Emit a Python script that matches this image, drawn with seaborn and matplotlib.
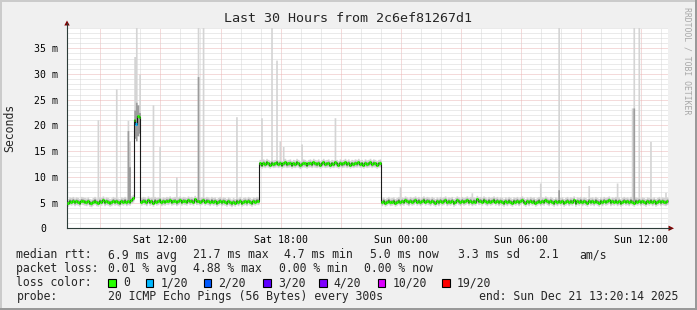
import numpy as np
import pandas as pd
import matplotlib
matplotlib.use("Agg")
import matplotlib.pyplot as plt
import seaborn as sns
from matplotlib.patches import Rectangle, Polygon
from matplotlib.lines import Line2D
from matplotlib.transforms import ScaledTranslation

# ---------------- data ----------------
start_hour = 7 + 20 / 60 + 14 / 3600      # Sat 07:20:14 (hours since Sat 00:00)
step_minutes = 5

seg_a = [5.0, 5.3, 5.2, 5.4, 5.1, 5.3, 5.2, 5.0, 5.4, 5.3,
         5.2, 5.1, 5.3, 5.0, 4.9, 5.2, 5.4, 5.1, 5.0, 5.3,
         5.2, 5.5, 5.1, 5.3, 5.2, 5.0, 5.1, 5.4, 5.2, 5.3,
         5.1, 5.0, 5.3, 5.2, 5.4, 5.1, 5.3, 5.2, 5.5, 5.8]
seg_hump = [21.0, 20.2, 21.8, 21.6]
seg_b = [5.2, 5.4, 5.3, 5.1, 5.5, 5.2, 5.3, 5.0, 5.4, 5.2,
         5.3, 5.5, 5.1, 5.3, 5.2, 5.4, 5.3, 5.5, 5.2, 5.3,
         5.4, 5.1, 5.3, 5.5, 5.2, 5.4, 5.3, 5.2, 5.5, 5.3,
         5.4, 5.2, 5.6, 5.3, 5.4, 5.2, 5.3, 5.5, 5.2, 5.4,
         5.3, 5.1, 5.4, 5.2, 5.3, 5.0, 5.2, 5.4, 5.1, 5.3,
         5.2, 5.0, 5.3, 5.1, 4.9, 5.2, 5.0, 5.3, 5.1, 5.4,
         5.0, 5.2, 5.3, 5.1, 5.4, 5.2, 5.0, 5.3, 5.2, 5.4,
         5.3]
seg_c = [12.6, 12.4, 12.7, 12.5, 12.8, 12.6, 12.4, 12.7, 12.5, 12.6,
         12.8, 12.5, 12.7, 12.4, 12.6, 12.8, 12.5, 12.6, 12.7, 12.4,
         12.6, 12.5, 12.8, 12.6, 12.3, 12.5, 12.7, 12.6, 12.4, 12.6,
         12.7, 12.5, 12.8, 12.6, 12.5, 12.7, 12.4, 12.6, 12.8, 12.5,
         12.6, 12.7, 12.4, 12.6, 12.5, 12.8, 12.6, 12.4, 12.7, 12.5,
         12.6, 12.8, 12.5, 12.7, 12.4, 12.6, 12.5, 12.7, 12.6, 12.8,
         12.5, 12.6, 12.4, 12.7, 12.5, 12.6, 12.8, 12.5, 12.7, 12.6,
         12.4, 12.6, 12.7]
seg_d = [5.1, 5.3, 5.0, 5.2, 5.4, 5.1, 5.2, 5.3, 5.0, 5.2,
         5.4, 5.1, 5.3, 5.2, 5.5, 5.3, 5.1, 5.4, 5.2, 5.3,
         5.5, 5.2, 5.4, 5.1, 5.3, 5.5, 5.2, 5.4, 5.3, 5.1,
         5.4, 5.2, 5.0, 5.3, 5.1, 5.4, 5.2, 5.3, 5.5, 5.1,
         5.3, 5.2, 5.4, 5.0, 5.2, 5.5, 5.3, 5.1, 5.4, 5.2,
         5.3, 5.5, 5.2, 5.4, 5.1, 5.3, 5.2, 5.6, 5.3, 5.4,
         5.2, 5.5, 5.3, 5.1, 5.4, 5.2, 5.3, 5.5, 5.2, 5.4,
         5.1, 5.3, 5.2, 5.0, 5.3, 5.1, 5.4, 5.2, 5.0, 5.3,
         5.2, 5.4, 5.1, 5.3, 5.5, 5.2, 5.0, 5.3, 5.1, 5.4,
         5.2, 5.3, 5.0, 5.2, 5.4, 5.1, 5.3, 5.2, 5.5, 5.3,
         5.1, 5.4, 5.2, 5.0, 5.3, 5.1, 5.4, 5.2, 5.3, 5.0,
         5.2, 5.4, 5.1, 5.3, 5.2, 5.5, 5.0, 5.3, 5.2, 5.4,
         5.1, 5.3, 5.2, 5.0, 5.4, 5.2, 5.3, 5.1, 5.4, 5.2,
         5.0, 5.3, 5.1, 5.4, 5.2, 5.3, 5.5, 5.1, 5.3, 5.2,
         5.4, 5.1, 5.3, 5.0, 5.2, 5.4, 5.2, 5.3, 5.1, 5.4,
         5.2, 5.0, 5.3, 5.2, 5.4, 5.1, 5.3, 5.2, 5.0, 5.3,
         5.2, 5.4, 5.1, 5.3, 5.0, 5.2, 5.4, 5.1, 5.3, 5.2,
         5.1, 5.3]
median_ms = seg_a + seg_hump + seg_b + seg_c + seg_d

# per-step packet loss (index into loss classes), only non-zero steps listed
loss_steps = [41]
loss_class = [1]

# single-ping outliers (lightest smoke): step index -> highest ping (ms)
spike_steps = [18, 29, 36, 37, 40, 41, 43, 51, 55, 65, 78, 81, 101, 116, 122,
               125, 127, 129, 140, 160, 199, 242, 283, 294, 312, 329, 338,
               339, 342, 349, 358]
spike_tops = [21.1, 27.1, 21.0, 17.0, 33.4, 45.0, 30.0, 24.0, 15.9, 10.0, 45.0,
              45.0, 21.7, 21.5, 45.0, 32.7, 17.0, 15.9, 16.4, 21.5, 8.1, 6.9,
              8.8, 45.0, 8.3, 8.8, 23.4, 45.0, 45.0, 16.9, 7.0]
# denser smoke (several pings high)
dense_steps = [36, 37, 40, 41, 42, 43, 78, 294, 339]
dense_tops = [19.0, 12.0, 23.0, 24.5, 24.0, 22.5, 29.5, 7.5, 23.4]
dense_bottoms = [5.5, 5.5, 17.5, 17.0, 18.0, 18.5, 5.6, 5.3, 5.6]

y_ticks = [0, 5, 10, 15, 20, 25, 30, 35]
y_labels = ["0", "5 m", "10 m", "15 m", "20 m", "25 m", "30 m", "35 m"]
x_ticks = [12, 18, 24, 30, 36]
x_labels = ["Sat 12:00", "Sat 18:00", "Sun 00:00", "Sun 06:00", "Sun 12:00"]

loss_names = ["0", "1/20", "2/20", "3/20", "4/20", "10/20", "19/20"]
loss_colors = ["#26ff00", "#00b8ff", "#0059ff", "#5e00ff", "#7e00ff", "#dd00ff", "#ff0000"]

# ---------------- style ----------------
sns.set_style("white")
plt.rcParams["font.family"] = ["DejaVu Sans Mono", "DejaVu Sans"]

W, H = 697, 310
BG = "#f0f0f0"
AXIS = "#2c3c38"
fig = plt.figure(figsize=(W / 100, H / 100), dpi=100, facecolor=BG)


def fx(x):
    return x / W


def fy(y):
    return 1 - y / H


x0, x1, y0, y1 = 67, 668, 228.3, 27.7
ax = fig.add_axes([fx(x0), fy(y0), fx(x1) - fx(x0), fy(y1) - fy(y0)])
ax.set_facecolor("white")

n = len(median_ms)
t = start_hour + np.arange(n + 1) * step_minutes / 60.0
med = np.array(median_ms, dtype=float)
med_ext = np.append(med, med[-1])

lo = med - 0.7
hi = med + 0.8
for i, v in zip(spike_steps, spike_tops):
    hi[i] = max(hi[i], v)
mlo = med - 0.35
mhi = med + 0.4
for i, v, b in zip(dense_steps, dense_tops, dense_bottoms):
    mhi[i] = max(mhi[i], v)
    mlo[i] = min(mlo[i], b)

ext = lambda a: np.append(a, a[-1])

t_end = start_hour + 30
# grid
for h in range(8, 38):
    major = (h % 3 == 0)
    ax.axvline(h, color="#ebb6b6" if major else "#d6d6d6", lw=0.72,
               ls=(0, (1, 1)), zorder=0.5)
for v in range(1, 40):
    major = (v % 5 == 0)
    ax.axhline(v, color="#ebb6b6" if major else "#d6d6d6", lw=0.72,
               ls=(0, (1, 1)), zorder=0.5)

ax.fill_between(t, ext(lo), ext(hi), step="post", color="#d4d4d4", lw=0, zorder=1)
ax.fill_between(t, ext(mlo), ext(mhi), step="post", color="#9c9c9c", lw=0, zorder=1.1)
ax.fill_between(t, ext(med - 0.15), ext(med + 0.2), step="post", color="#4a4a4a",
                lw=0, zorder=1.2)

df = pd.DataFrame({"t": t, "median": med_ext})
sns.lineplot(data=df, x="t", y="median", drawstyle="steps-post", color="#1a1a1a",
             lw=0.8, ax=ax, zorder=2)

loss = np.zeros(n, dtype=int)
for i, c in zip(loss_steps, loss_class):
    loss[i] = c
seg_cols = [loss_colors[c] for c in loss]
ax.hlines(med, t[:-1], t[1:], colors=seg_cols, lw=2.1, zorder=3)

ax.set_xlim(start_hour, t_end)
ax.set_ylim(0, 39)
ax.set_xlabel("")
ax.set_ylabel("")
ax.set_xticks(x_ticks, x_labels)
ax.set_yticks(y_ticks, y_labels)
ax.tick_params(axis="both", length=2, width=0.7, color=AXIS, labelsize=7.1,
               labelcolor="black")
ax.tick_params(axis="y", pad=4.5)
ax.tick_params(axis="x", pad=2.5)
zero_lbl = ax.get_yticklabels()[0]
zero_lbl.set_transform(zero_lbl.get_transform() +
                       ScaledTranslation(-0.12, 0, fig.dpi_scale_trans))

for s in ["top", "right"]:
    ax.spines[s].set_visible(False)
for s in ["left", "bottom"]:
    ax.spines[s].set_color(AXIS)
    ax.spines[s].set_linewidth(0.8)

# axis extensions with arrows
fig.add_artist(Line2D([fx(x0), fx(x0)], [fy(y1), fy(23)], transform=fig.transFigure,
                      color=AXIS, lw=0.8))
fig.add_artist(Line2D([fx(x1), fx(670)], [fy(y0), fy(y0)], transform=fig.transFigure,
                      color=AXIS, lw=0.8))
fig.add_artist(Polygon([[fx(64.3), fy(25.5)], [fx(69.7), fy(25.5)], [fx(67), fy(20.5)]],
                       closed=True, transform=fig.transFigure, color="#7f0000", lw=0))
fig.add_artist(Polygon([[fx(668.5), fy(225.6)], [fx(668.5), fy(231)], [fx(674), fy(228.3)]],
                       closed=True, transform=fig.transFigure, color="#7f0000", lw=0))

# title, axis label, watermark
fig.text(fx(348), fy(19), "Last 30 Hours from 2c6ef81267d1", ha="center", va="center",
         fontsize=9.6)
fig.text(fx(10), fy(128), "Seconds", rotation=90, ha="center", va="center", fontsize=8.3)
fig.text(fx(687), fy(61), "RRDTOOL / TOBI OETIKER", rotation=270, ha="center",
         va="center", fontsize=5.9, color="#a8a8a8")

# legend
LS = 8.3
row1 = [(16.5, "median rtt:"), (107.5, "6.9 ms avg"), (193.3, "21.7 ms max"),
        (283.6, "4.7 ms min"), (369.8, "5.0 ms now"), (457.8, "3.3 ms sd"),
        (537.8, "2.1"), (579.1, "am/s")]
row2 = [(16.5, "packet loss:"), (107.5, "0.01 % avg"), (193.3, "4.88 % max"),
        (279.0, "0.00 % min"), (364.4, "0.00 % now")]
for x, s in row1:
    fig.text(fx(x), fy(255), s, ha="left", va="center", fontsize=LS)
for x, s in row2:
    fig.text(fx(x), fy(268.5), s, ha="left", va="center", fontsize=LS)
fig.text(fx(16.5), fy(282.5), "loss color:", ha="left", va="center", fontsize=LS)
box_x = [108.3, 145.6, 203.5, 263.2, 318.8, 377.6, 442.0]
for bx, name, col in zip(box_x, loss_names, loss_colors):
    fig.add_artist(Rectangle((fx(bx), fy(286.8)), 7.7 / W, 7.7 / H,
                             transform=fig.transFigure, facecolor=col,
                             edgecolor="black", lw=0.8))
    fig.text(fx(bx + 15), fy(282.5), name, ha="left", va="center", fontsize=LS)
fig.text(fx(16.5), fy(296.7), "probe:", ha="left", va="center", fontsize=LS)
fig.text(fx(107.5), fy(296.7), "20 ICMP Echo Pings (56 Bytes) every 300s",
         ha="left", va="center", fontsize=LS)
fig.text(fx(478.7), fy(296.7), "end: Sun Dec 21 13:20:14 2025", ha="left",
         va="center", fontsize=LS)

# 3D frame
fig.add_artist(Rectangle((0, 0), 2 / W, 1, transform=fig.transFigure,
                         color="#cbcbcb", lw=0))
fig.add_artist(Rectangle((0, 1 - 2 / H), 1, 2 / H, transform=fig.transFigure,
                         color="#cbcbcb", lw=0))
fig.add_artist(Rectangle((1 - 2 / W, 0), 2 / W, 1, transform=fig.transFigure,
                         color="#999999", lw=0))
fig.add_artist(Rectangle((0, 0), 1, 2 / H, transform=fig.transFigure,
                         color="#999999", lw=0))

fig.savefig("out.png", dpi=100, facecolor=BG)
